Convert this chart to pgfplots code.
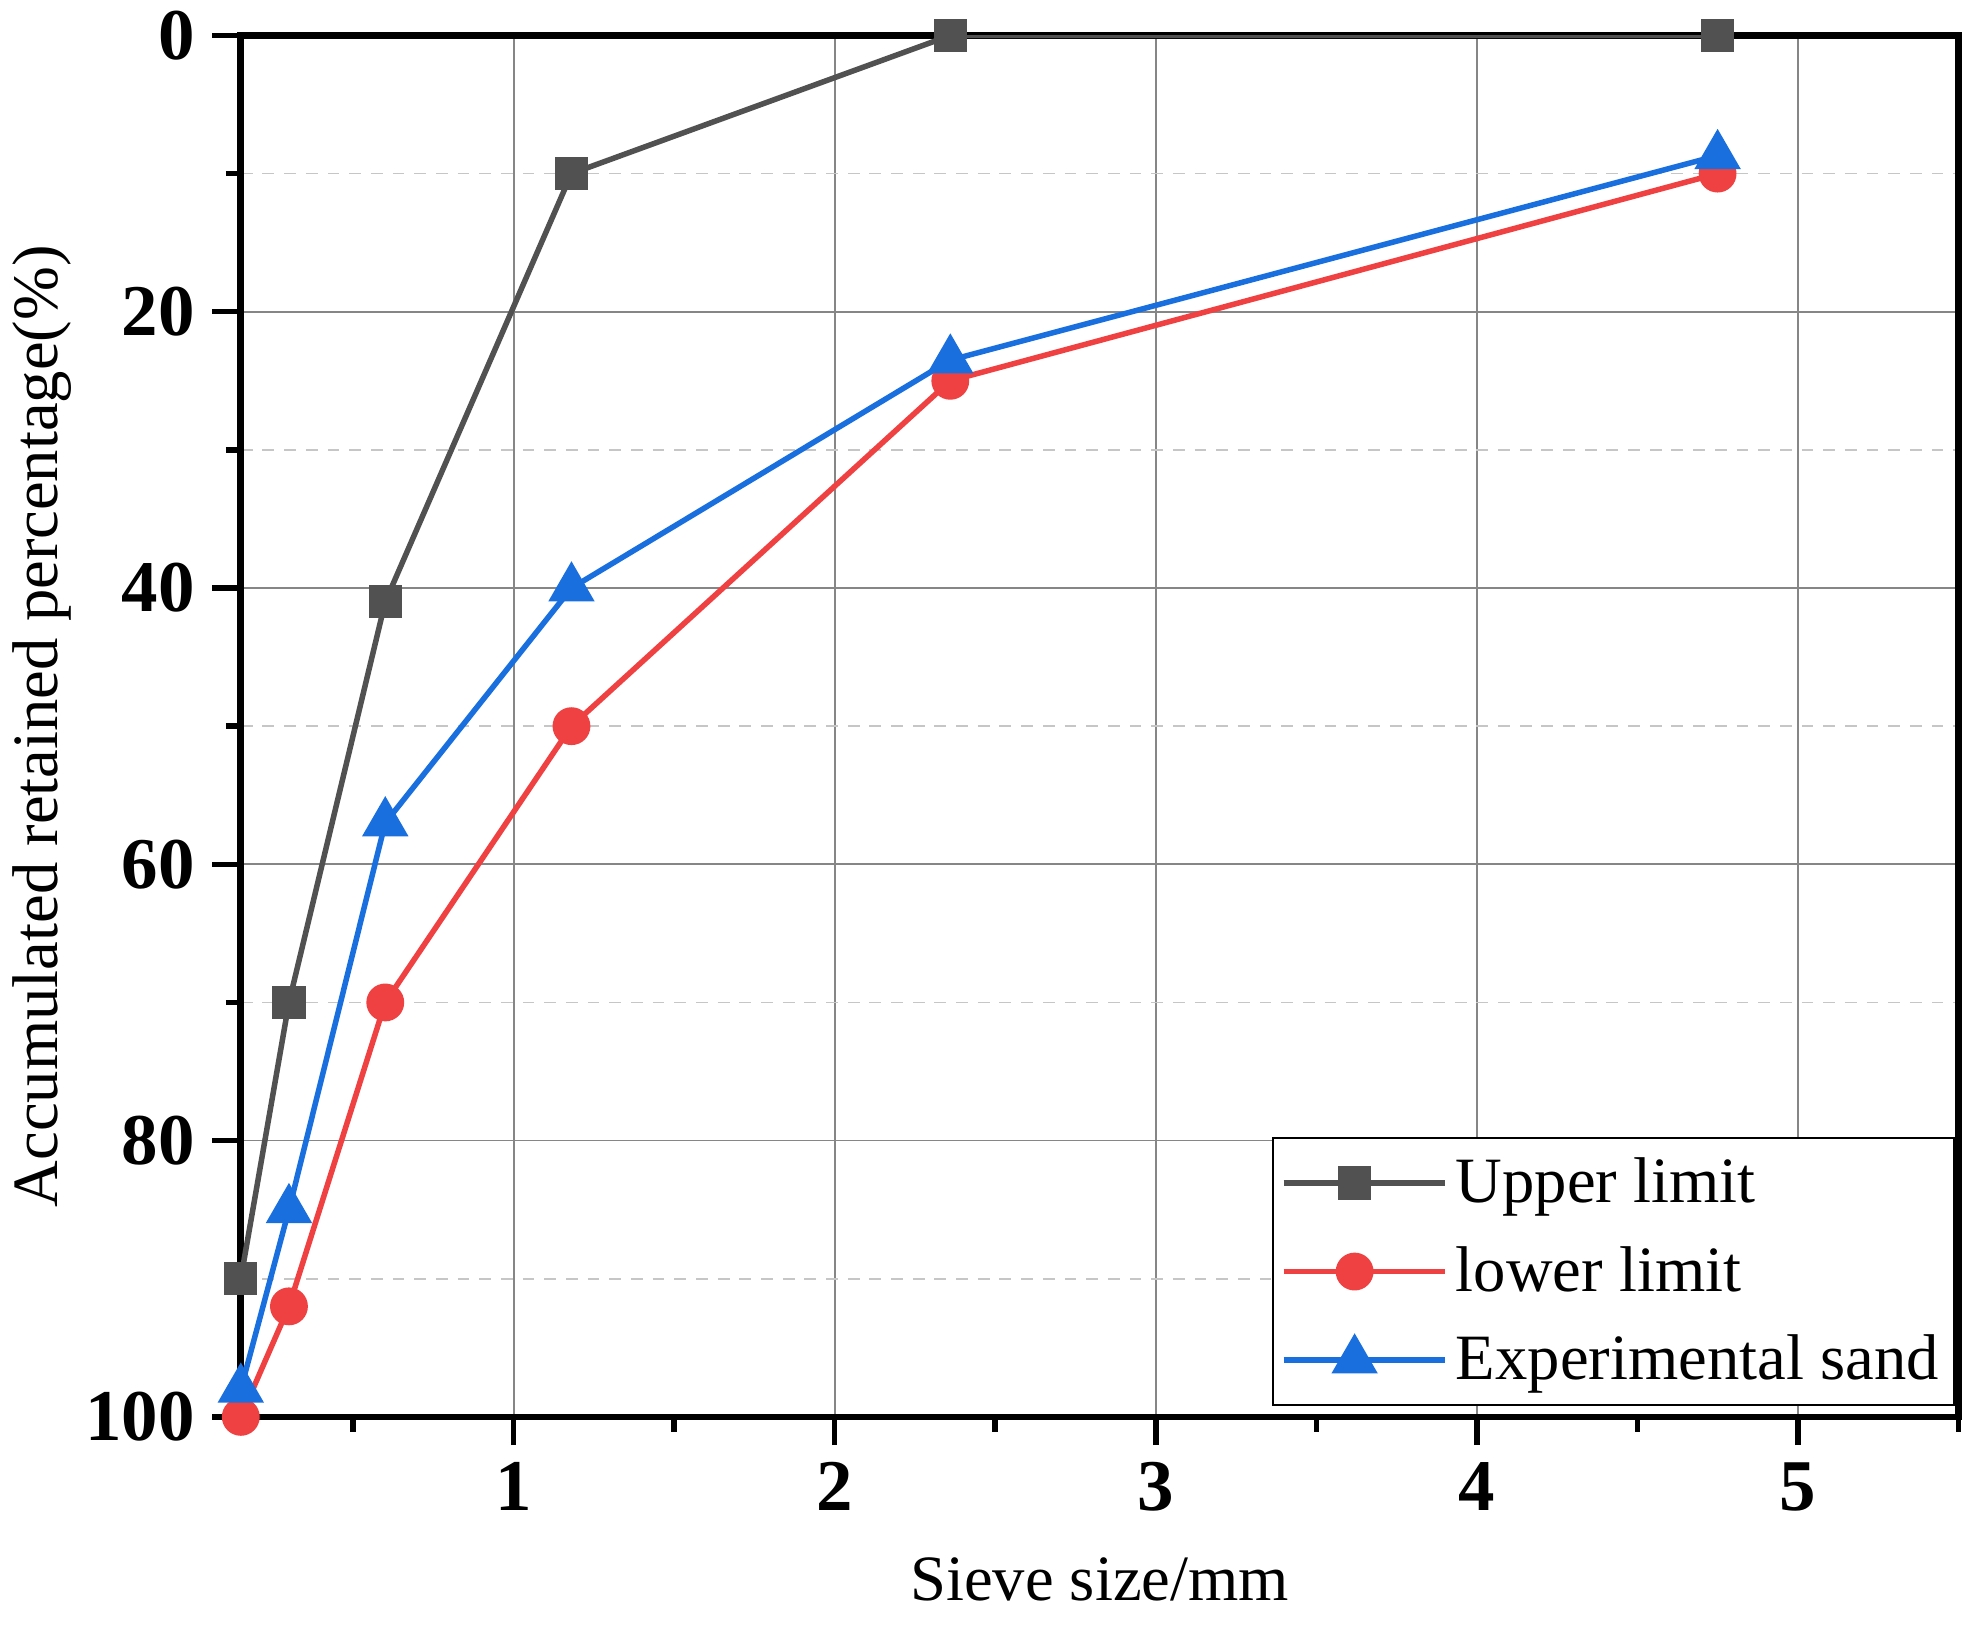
\documentclass[border=0pt]{standalone}
\usepackage{pgfplots}
\pgfplotsset{compat=1.18}
\usepackage{fontspec}
\setmainfont{Liberation Serif}
\definecolor{cgray}{HTML}{515151}
\definecolor{cred}{HTML}{EF4141}
\definecolor{cblue}{HTML}{1A6FDF}
\begin{document}
\begin{tikzpicture}
\begin{axis}[
  name=ax,
  scale only axis,
  width=435.8bp, height=350.5bp,
  xmin=0.15, xmax=5.5,
  ymin=-100, ymax=0,
  y filter/.code={\pgfmathparse{-#1}},
  xtick={1,2,3,4,5},
  minor xtick={0.5,1.5,2.5,3.5,4.5,5.5},
  ytick={-100,-80,-60,-40,-20,0},
  yticklabels={100,80,60,40,20,0},
  minor ytick={-90,-70,-50,-30,-10},
  xtick pos=bottom, ytick pos=left,
  tick align=outside,
  major tick length=7.2bp,
  minor tick length=3.8bp,
  every tick/.style={black, line width=1.4bp},
  axis line style={black, line width=1.7bp},
  grid=both,
  major grid style={gray!95, line width=0.45bp, solid},
  minor grid style={gray!45, line width=0.45bp, dash pattern=on 3bp off 2.5bp},
  xminorgrids=false,
  ticklabel style={font=\fontsize{18.5bp}{20bp}\selectfont\bfseries},
  /pgf/number format/assume math mode=true,
  xticklabel style={yshift=-0.8bp},
  yticklabel style={xshift=-1bp},
  xlabel={Sieve size/mm},
  ylabel={Accumulated retained percentage(\%)},
  label style={font=\fontsize{16.4bp}{18bp}\selectfont},
  xlabel style={at={(axis description cs:0.5,0)}, anchor=center, yshift=-41.2bp},
  ylabel style={at={(axis description cs:0,0.5)}, anchor=center, yshift=50.5bp},
  legend style={at={(axis description cs:0.9985,0.0075)}, anchor=south east,
    draw=black, line width=0.7bp, fill=white,
    font=\fontsize{16.4bp}{18bp}\selectfont,
    inner xsep=2bp, inner ysep=3bp, row sep=5.6bp,
    /tikz/every even column/.append style={column sep=0bp}},
  legend cell align=left,
  legend image code/.code={%
    \draw[mark repeat=2,mark phase=2] plot coordinates {(0bp,0bp) (18bp,0bp) (36bp,0bp)};%
    \path (36bp,0) -- (41bp,0);},
  every axis plot/.append style={line width=1.4bp},
]
\addplot[cgray, mark=square*, mark size=3.5bp, mark options={solid}] coordinates {
 (0.15,90) (0.3,70) (0.6,41) (1.18,10) (2.36,0) (4.75,0)};
\addlegendentry{Upper limit}
\addplot[cred, mark=*, mark size=4.1bp, mark options={solid}] coordinates {
 (0.15,100) (0.3,92) (0.6,70) (1.18,50) (2.36,25) (4.75,10)};
\addlegendentry{lower limit}
\addplot[cblue, mark=triangle*, mark size=5.4bp, mark options={solid}] coordinates {
 (0.15,98) (0.3,85) (0.6,57) (1.18,40) (2.36,23.5) (4.75,8.7)};
\addlegendentry{Experimental sand}
\end{axis}
\pgfresetboundingbox
\path[use as bounding box] ([shift={(-61.1bp,-56.9bp)}]ax.south west) rectangle ([shift={(3.2bp,9bp)}]ax.north east);
\end{tikzpicture}
\end{document}
